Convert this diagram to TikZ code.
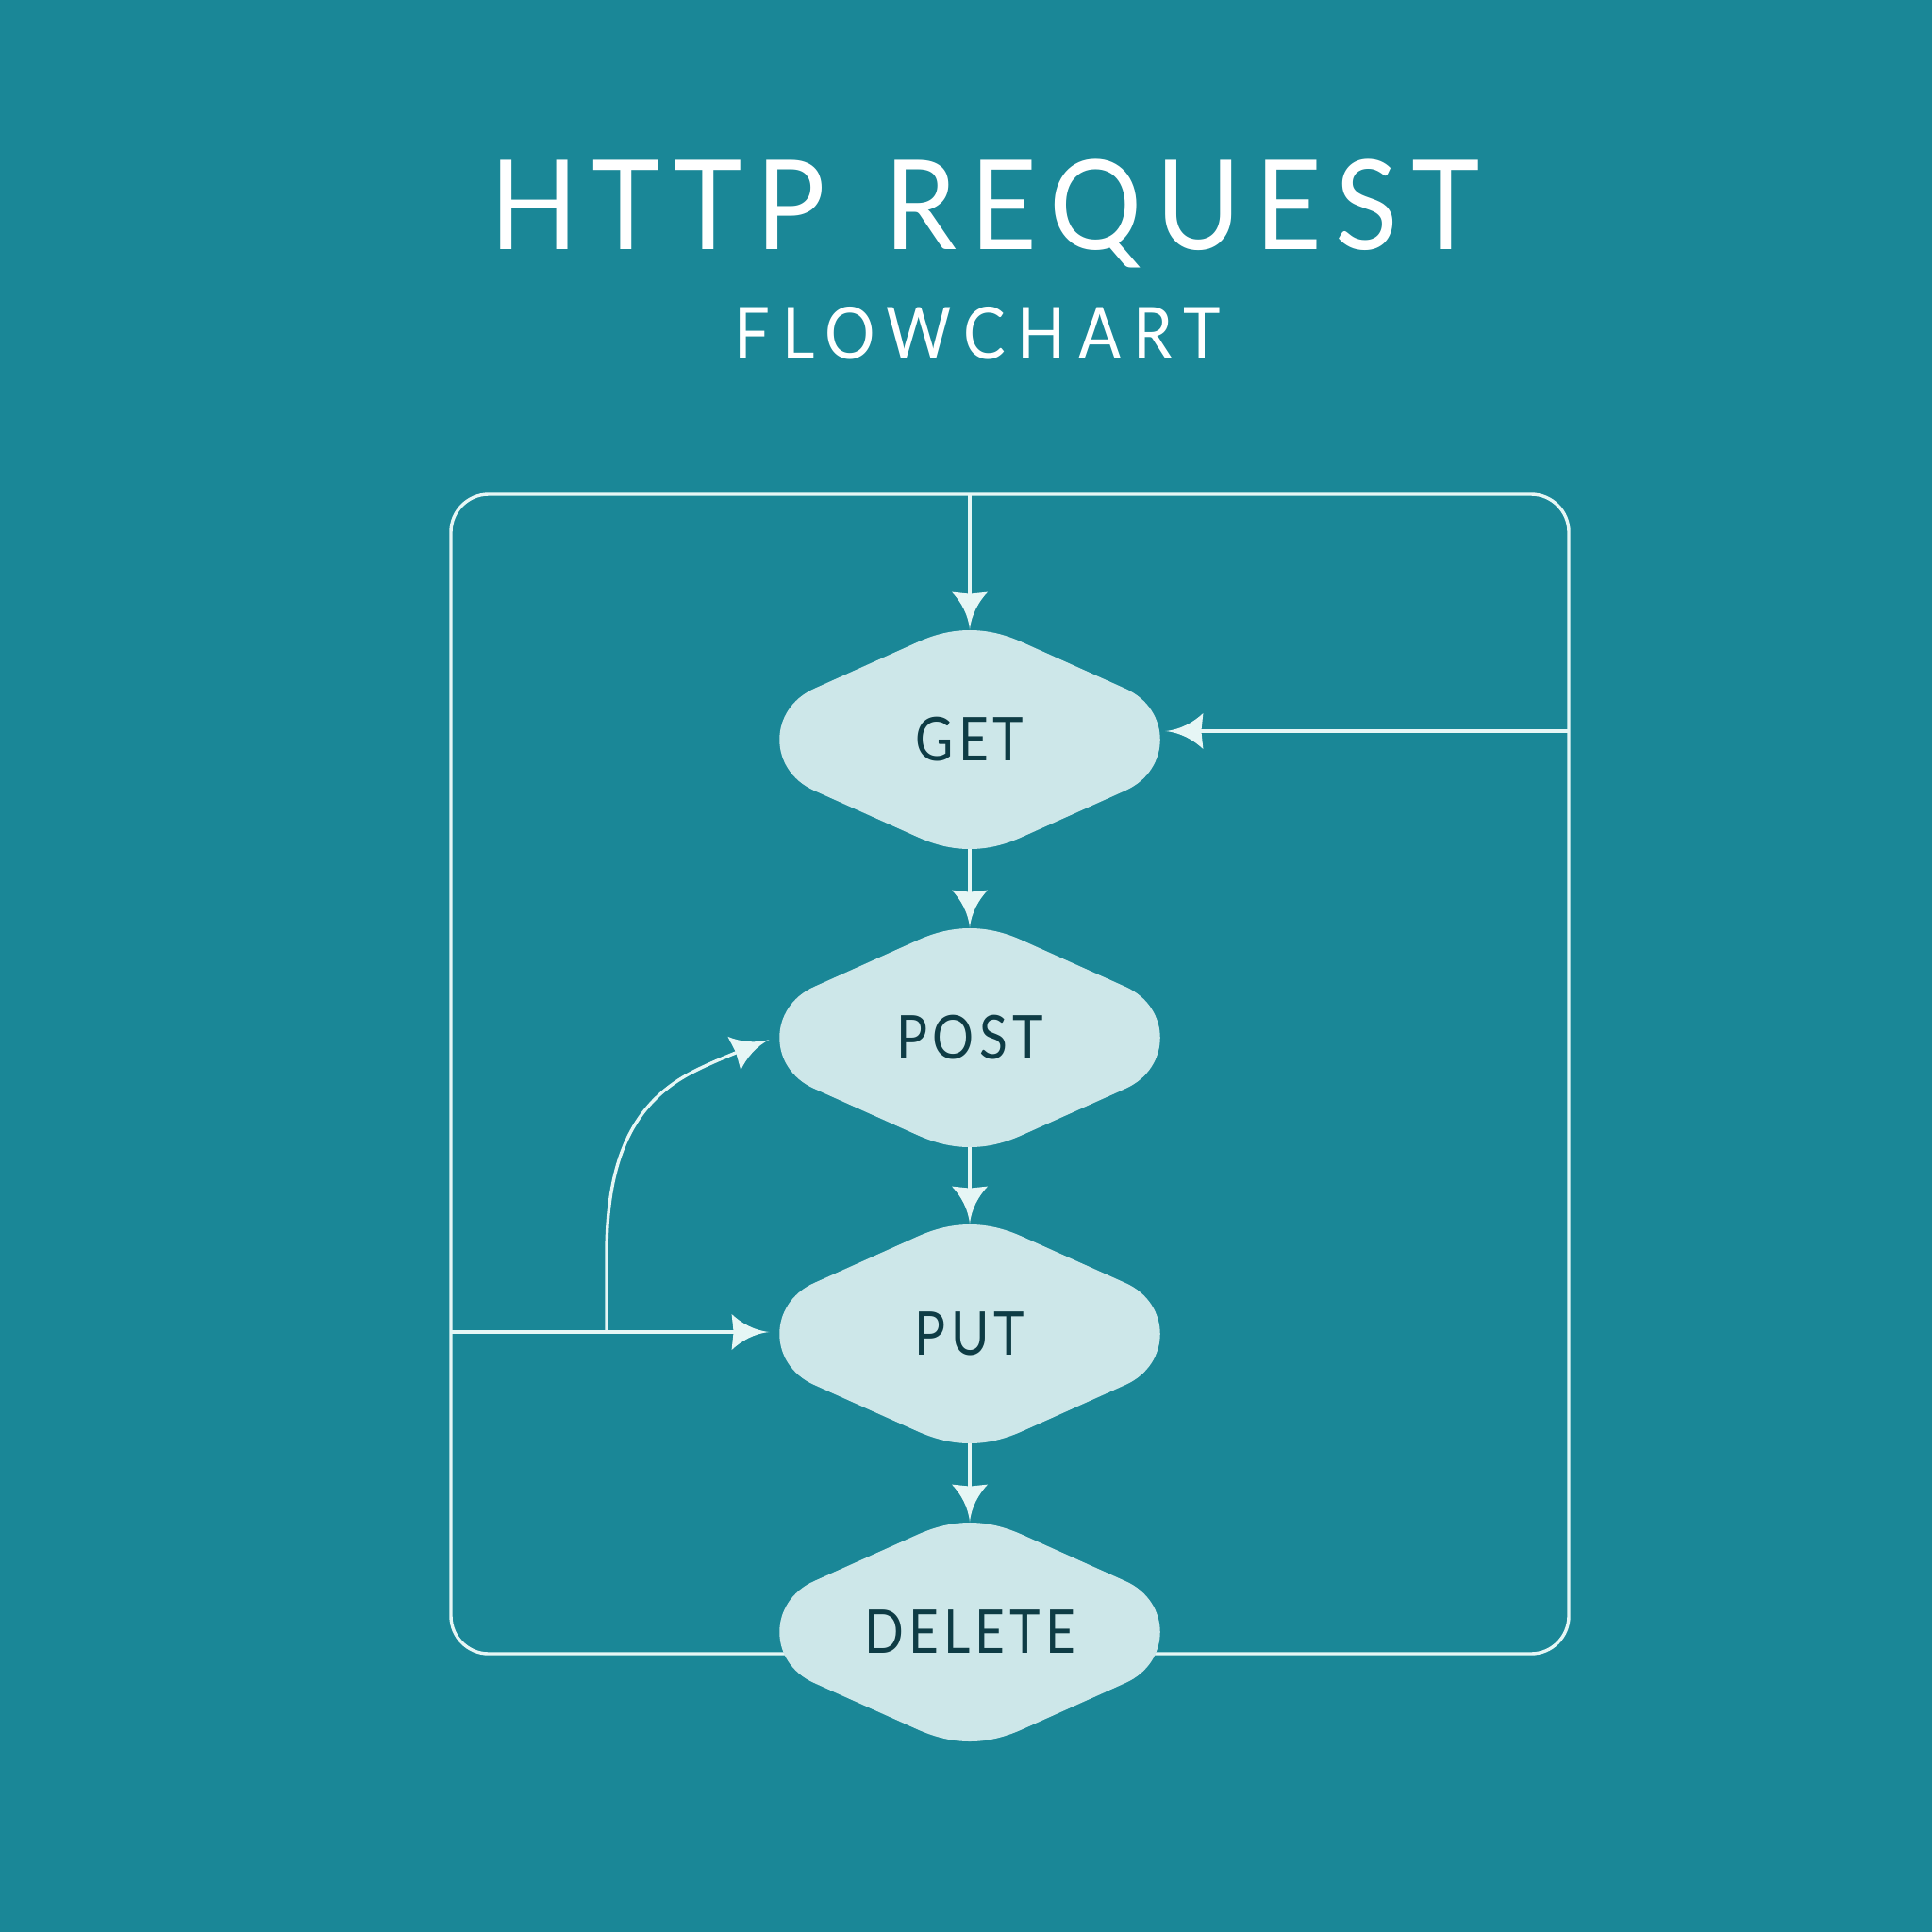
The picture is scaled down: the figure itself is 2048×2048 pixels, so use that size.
\documentclass[tikz,border=0pt]{standalone}
\usepackage{fontspec}
\setmainfont[FakeStretch=0.86,LetterSpace=8]{Lato}
\newfontfamily\titlefont[FakeStretch=0.93,LetterSpace=11]{Lato}
\newfontfamily\subfont[FakeStretch=0.88,LetterSpace=17]{Lato}
\usetikzlibrary{arrows.meta}
\definecolor{bg}{HTML}{1A8797}
\definecolor{linec}{HTML}{E6F6F5}
\definecolor{nodefill}{HTML}{CDE7E9}
\definecolor{nodetext}{HTML}{0E3C45}
\pgfdeclarearrow{
  name = CTri,
  parameters = {\the\pgfarrowlength,\the\pgfarrowwidth},
  setup code = {
    \pgfarrowssettipend{0pt}
    \pgfarrowssetbackend{-\pgfarrowlength}
    \pgfarrowssetlineend{-0.7\pgfarrowlength}
    \pgfarrowssavethe\pgfarrowlength
    \pgfarrowssavethe\pgfarrowwidth
  },
  drawing code = {
    \pgfpathmoveto{\pgfqpoint{0pt}{0pt}}
    \pgfpathcurveto{\pgfqpoint{-0.4\pgfarrowlength}{0.04\pgfarrowwidth}}{\pgfqpoint{-0.75\pgfarrowlength}{0.25\pgfarrowwidth}}{\pgfqpoint{-\pgfarrowlength}{0.5\pgfarrowwidth}}
    \pgfpathlineto{\pgfqpoint{-0.95\pgfarrowlength}{0pt}}
    \pgfpathlineto{\pgfqpoint{-\pgfarrowlength}{-0.5\pgfarrowwidth}}
    \pgfpathcurveto{\pgfqpoint{-0.75\pgfarrowlength}{-0.25\pgfarrowwidth}}{\pgfqpoint{-0.4\pgfarrowlength}{-0.04\pgfarrowwidth}}{\pgfqpoint{0pt}{0pt}}
    \pgfpathclose
    \pgfusepathqfill
  },
  defaults = {length = 20pt, width = 19pt}
}
\tikzset{
  blob/.pic={
    \fill[nodefill] (0,-116) .. controls (-19,-116) and (-37,-111.6) .. (-56,-103)
      -- (-165,-54) .. controls (-214,-32) and (-214,32) .. (-165,54)
      -- (-56,103) .. controls (-37,111.6) and (-19,116) .. (0,116)
      .. controls (19,116) and (37,111.6) .. (56,103)
      -- (165,54) .. controls (214,32) and (214,-32) .. (165,-54)
      -- (56,-103) .. controls (37,-111.6) and (19,-116) .. (0,-116) -- cycle;
  },
  mnode/.style={minimum width=202pt, minimum height=116pt, inner sep=0pt,
    text=nodetext, font=\fontsize{32}{34}\selectfont},
  conn/.style={draw=linec, line width=1.7pt},
  arr/.style={conn, -{CTri[length=20pt,width=19pt]}},
  titletext/.style={text=white, inner sep=0pt, anchor=base}
}
\begin{document}
\begin{tikzpicture}[x=0.5pt,y=-0.5pt]
\fill[bg] (0,0) rectangle (2048,2048);
\useasboundingbox (0,0) rectangle (2048,2048);

\node[titletext, font=\titlefont\fontsize{66}{70}\selectfont] (title) at (1044,265) {HTTP\hspace{8pt} REQUEST};
\node[titletext, font=\subfont\fontsize{38}{42}\selectfont] (subtitle) at (1036,381) {FLOWCHART};

% outer loop frame
\coordinate (tl) at (478,524);
\coordinate (br) at (1663,1753);
\draw[conn, rounded corners=20pt] (tl) rectangle (br);

% nodes
\pic at (1028,784) {blob};
\node[mnode] (get) at (1028,784) {GET};
\pic at (1028,1100) {blob};
\node[mnode] (post) at (1028,1100) {POST};
\pic at (1028,1414) {blob};
\node[mnode] (put) at (1028,1414) {PUT};
\pic at (1028,1730) {blob};
\node[mnode] (delete) at (1028,1730) {DELETE};

% connectors
\coordinate (topin) at (1028,524);
\coordinate (rin) at (1663,775);
\coordinate (lin) at (478,1412);
\coordinate (branch) at (643,1412);
\coordinate (bend) at (643,1330);
\coordinate (mid) at (733,1137);

\draw[arr] (topin) -- (get.north);
\draw[arr] (get.south) -- (post.north);
\draw[arr] (post.south) -- (put.north);
\draw[arr] (put.south) -- (delete.north);
\draw[arr] (rin) -- ([shift={(5,-9)}]get.east);
\draw[arr] (lin) -- ([shift={(-10,-2)}]put.west);
\draw[arr] (branch) -- (bend) .. controls (643,1230) and (670,1170) .. (mid)
  .. controls (756,1125) and (790,1112) .. ([shift={(-10,2)}]post.west);
\end{tikzpicture}
\end{document}
